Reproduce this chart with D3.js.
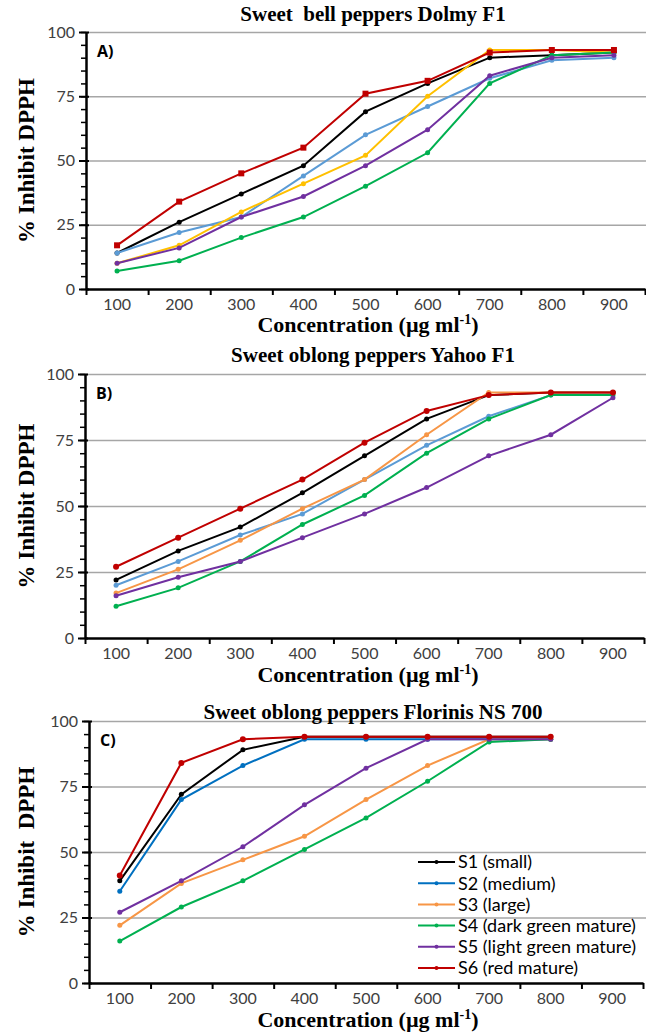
<!DOCTYPE html>
<html>
<head>
<meta charset="utf-8">
<script src="https://cdn.jsdelivr.net/npm/d3@7"></script>
<style>
  body { margin: 0; background: #fff; }
  svg { display: block; }
  .tick text { font-family: Lato, "Open Sans", sans-serif; fill: #404040; }
</style>
</head>
<body>
<div id="chart"></div>
<script>
// x categories (concentration, µg/ml)
const concentrations = [100, 200, 300, 400, 500, 600, 700, 800, 900];
const seriesNames = ['S1 (small)', 'S2 (medium)', 'S3 (large)', 'S4 (dark green mature)', 'S5 (light green mature)', 'S6 (red mature)'];
const yTicks = [0, 25, 50, 75, 100];

// Panel A - Dolmy F1
const dolmyS1 = [14, 26, 37, 48, 69, 80, 90, 91, 92];
const dolmyS2 = [14, 22, 28, 44, 60, 71, 82, 89, 90];
const dolmyS3 = [10, 17, 30, 41, 52, 75, 93, 93, 92];
const dolmyS4 = [7, 11, 20, 28, 40, 53, 80, 91, 92];
const dolmyS5 = [10, 16, 28, 36, 48, 62, 83, 90, 91];
const dolmyS6 = [17, 34, 45, 55, 76, 81, 92, 93, 93];

// Panel B - Yahoo F1
const yahooS1 = [22, 33, 42, 55, 69, 83, 92, 93, 93];
const yahooS2 = [20, 29, 39, 47, 60, 73, 84, 92, 93];
const yahooS3 = [17, 26, 37, 49, 60, 77, 93, 93, 93];
const yahooS4 = [12, 19, 29, 43, 54, 70, 83, 92, 92];
const yahooS5 = [16, 23, 29, 38, 47, 57, 69, 77, 91];
const yahooS6 = [27, 38, 49, 60, 74, 86, 92, 93, 93];

// Panel C - Florinis NS 700 (no 900 value)
const florinisS1 = [39, 72, 89, 94, 94, 94, 94, 94];
const florinisS2 = [35, 70, 83, 93, 93, 93, 93, 93];
const florinisS3 = [22, 38, 47, 56, 70, 83, 93, 93];
const florinisS4 = [16, 29, 39, 51, 63, 77, 92, 93];
const florinisS5 = [27, 39, 52, 68, 82, 93, 93, 93];
const florinisS6 = [41, 84, 93, 94, 94, 94, 94, 94];

const colorsA = ['#000000', '#5b9bd5', '#ffc000', '#00b050', '#7030a0', '#c00000'];
const colorsB = ['#000000', '#5b9bd5', '#f79646', '#00b050', '#7030a0', '#c00000'];
const colorsC = ['#000000', '#0070c0', '#f79646', '#00b050', '#7030a0', '#c00000'];

const panels = [
  { title: 'Sweet\u00a0 bell peppers Dolmy F1', label: 'A)', yTitle: '% Inhibit DPPH',
    top: 32, bottom: 289, left: 86, right: 645, titleY: 21, xTitleY: 332,
    series: [dolmyS1, dolmyS2, dolmyS3, dolmyS4, dolmyS5, dolmyS6], colors: colorsA, redSquare: true },
  { title: 'Sweet oblong peppers Yahoo F1', label: 'B)', yTitle: '% Inhibit DPPH',
    top: 374, bottom: 638, left: 85, right: 644, titleY: 362, xTitleY: 682,
    series: [yahooS1, yahooS2, yahooS3, yahooS4, yahooS5, yahooS6], colors: colorsB },
  { title: 'Sweet oblong peppers Florinis NS 700', label: 'C)', yTitle: '% Inhibit\u00a0 DPPH',
    top: 721, bottom: 983, left: 89, right: 643, titleY: 719, xTitleY: 1027,
    series: [florinisS1, florinisS2, florinisS3, florinisS4, florinisS5, florinisS6], colors: colorsC,
    legend: true }
];

const svg = d3.select('#chart').append('svg')
  .attr('width', 646)
  .attr('height', 1034);

panels.forEach(p => {
  const g = svg.append('g');

  const x = d3.scaleBand().domain(concentrations).range([p.left, p.right]).padding(0);
  const xEdges = d3.scaleLinear().domain([0, concentrations.length]).range([p.left, p.right]);
  const y = d3.scaleLinear().domain([0, 100]).range([p.bottom, p.top]);

  // gridlines
  g.append('g')
    .attr('transform', `translate(${p.left},0)`)
    .call(d3.axisLeft(y).tickValues(yTicks.slice(1)).tickSize(-(646 - p.left)).tickFormat(''))
    .call(a => a.select('.domain').remove())
    .selectAll('line').attr('stroke', '#a6a6a6').attr('stroke-width', 1.5);

  // minor y ticks every 5
  g.append('g')
    .attr('transform', `translate(${p.left},0)`)
    .call(d3.axisLeft(y).tickValues(d3.range(0, 101, 5)).tickSize(5).tickFormat(''))
    .call(a => a.select('.domain').remove())
    .selectAll('line').attr('stroke', '#000').attr('stroke-width', 1.5);

  // major y ticks + labels
  g.append('g')
    .attr('transform', `translate(${p.left},0)`)
    .call(d3.axisLeft(y).tickValues(yTicks).tickSizeInner(7).tickSizeOuter(0).tickPadding(4))
    .call(a => a.select('.domain').attr('stroke-width', 2.5))
    .call(a => a.selectAll('line').attr('stroke-width', 2).attr('x2', -7).attr('x1', 3))
    .selectAll('text').style('font-size', '16px');

  // x tick marks at category edges
  g.append('g')
    .attr('transform', `translate(0,${p.bottom})`)
    .call(d3.axisBottom(xEdges).tickValues(d3.range(0, concentrations.length + 1)).tickSizeInner(6).tickSizeOuter(0).tickFormat(''))
    .call(a => a.select('.domain').attr('stroke-width', 2.5))
    .selectAll('line').attr('stroke-width', 2);

  // x labels at category centres
  g.append('g')
    .attr('transform', `translate(0,${p.bottom})`)
    .call(d3.axisBottom(x).tickSize(0).tickPadding(10))
    .call(a => a.select('.domain').remove())
    .selectAll('text').style('font-size', '16px');

  // titles
  g.append('text')
    .attr('x', 373).attr('y', p.titleY)
    .attr('text-anchor', 'middle')
    .style('font-family', '"Liberation Serif", serif')
    .style('font-weight', 'bold')
    .style('font-size', '21px')
    .text(p.title);

  const xt = g.append('text')
    .attr('x', 368).attr('y', p.xTitleY)
    .attr('text-anchor', 'middle')
    .style('font-family', '"Liberation Serif", serif')
    .style('font-weight', 'bold')
    .style('font-size', '22px');
  xt.append('tspan').text('Concentration (µg ml');
  xt.append('tspan').attr('dy', -8).style('font-size', '14px').text('-1');
  xt.append('tspan').attr('dy', 8).text(')');

  g.append('text')
    .attr('transform', `translate(34,${(p.top + p.bottom) / 2}) rotate(-90)`)
    .attr('text-anchor', 'middle')
    .style('font-family', '"Liberation Serif", serif')
    .style('font-weight', 'bold')
    .style('font-size', '23px')
    .text(p.yTitle);

  g.append('text')
    .attr('x', p.left + 11).attr('y', p.top + 25)
    .style('font-family', '"Open Sans", sans-serif')
    .style('font-weight', 'bold')
    .style('font-size', '16px')
    .text(p.label);

  // lines
  const line = d3.line()
    .x((d, i) => x(concentrations[i]) + x.bandwidth() / 2)
    .y(d => y(d));

  p.series.forEach((vals, si) => {
    g.append('path')
      .datum(vals)
      .attr('fill', 'none')
      .attr('stroke', p.colors[si])
      .attr('stroke-width', 2)
      .attr('d', line);
    if (si === 5 && p.redSquare) {
      g.selectAll(null)
        .data(vals)
        .enter().append('rect')
        .attr('x', (d, i) => x(concentrations[i]) + x.bandwidth() / 2 - 3)
        .attr('y', d => y(d) - 3)
        .attr('width', 6).attr('height', 6)
        .attr('fill', p.colors[si]);
    } else {
      g.selectAll(null)
        .data(vals)
        .enter().append('circle')
        .attr('cx', (d, i) => x(concentrations[i]) + x.bandwidth() / 2)
        .attr('cy', d => y(d))
        .attr('r', si === 5 ? 3 : 2.5)
        .attr('fill', p.colors[si]);
    }
  });

  if (p.legend) {
    const lg = g.append('g').attr('transform', 'translate(418,862)');
    seriesNames.forEach((name, i) => {
      const row = lg.append('g').attr('transform', `translate(0,${i * 21.2})`);
      row.append('line').attr('x1', 0).attr('x2', 37).attr('stroke', p.colors[i]).attr('stroke-width', 2);
      row.append('circle').attr('cx', 18.5).attr('r', 2).attr('fill', p.colors[i]);
      row.append('text')
        .attr('x', 40).attr('dy', '0.35em')
        .style('font-family', 'Lato, sans-serif')
        .style('font-size', '18px')
        .style('fill', '#000')
        .text(name);
    });
  }
});
</script>
</body>
</html>
